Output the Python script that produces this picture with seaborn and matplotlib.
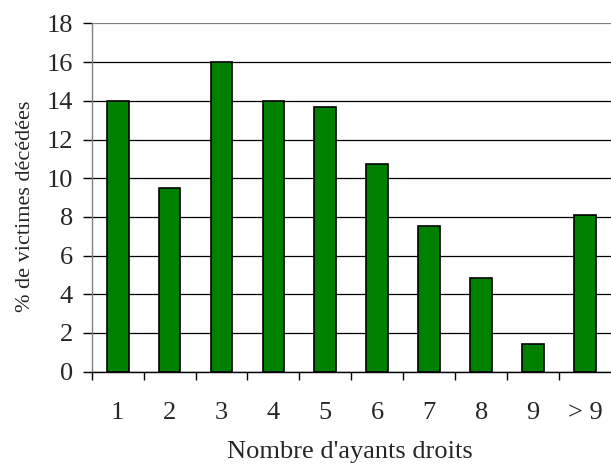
import matplotlib
matplotlib.use('Agg')
import matplotlib.pyplot as plt
import pandas as pd
import numpy as np
import seaborn as sns

categories = ['1', '2', '3', '4', '5', '6', '7', '8', '9', '> 9']
values = [14.0, 9.5, 16.0, 14.0, 13.7, 10.75, 7.55, 4.85, 1.45, 8.1]
y_ticks = [0, 2, 4, 6, 8, 10, 12, 14, 16, 18]

sns.set_style('white')
plt.rcParams['font.family'] = ['Liberation Serif', 'DejaVu Serif']

df = pd.DataFrame({'cat': categories, 'val': values})

fig = plt.figure(figsize=(6.11, 4.69), dpi=100)
ax = fig.add_axes([0.15, 0.2075, 0.85, 0.7425])

sns.barplot(data=df, x='cat', y='val', order=categories, color='#008000',
            edgecolor='black', linewidth=1.2, width=0.42, saturation=1, ax=ax)

ax.set_xlim(-0.5, 9.5)
ax.set_ylim(0, 18)
ax.set_yticks(y_ticks)
ax.yaxis.grid(True, color='black', linewidth=0.9)
ax.set_axisbelow(True)
ax.yaxis.get_gridlines()[-1].set_color('#808080')

for s in ['top', 'right']:
    ax.spines[s].set_visible(False)
ax.spines['left'].set_color('#808080')
ax.spines['left'].set_linewidth(1.0)
ax.spines['bottom'].set_color('black')
ax.spines['bottom'].set_linewidth(1.0)

ax.set_xticks(range(len(categories)))
ax.set_xticklabels(categories)
ax.set_xticks(np.arange(-0.5, 9.0, 1.0), minor=True)
ax.tick_params(axis='x', which='major', length=0, pad=22, labelsize=19)
ax.tick_params(axis='x', which='minor', direction='out', length=5.5,
               width=1, color='black', bottom=True)
ax.tick_params(axis='y', which='major', direction='out', length=6.5,
               width=1, color='black', pad=7, labelsize=19, left=True)

ax.set_xlabel("Nombre d'ayants droits", fontsize=19, va='center')
ax.xaxis.set_label_coords(0.497, -0.23)
ax.set_ylabel('% de victimes décédées', fontsize=16, va='center')
ax.yaxis.set_label_coords(-0.128, 0.476)

fig.savefig('out.png', dpi=100)
